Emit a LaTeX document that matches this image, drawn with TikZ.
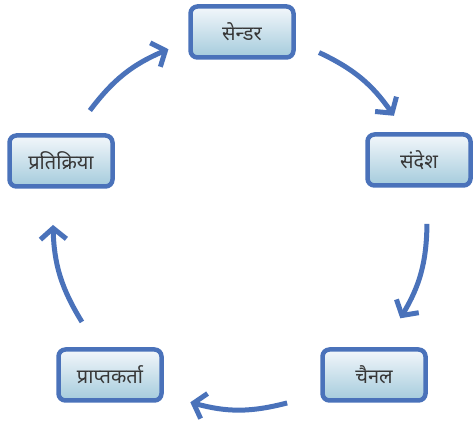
\documentclass[tikz,border=0pt]{standalone}
\usepackage{fontspec}
\newfontfamily\hindi[Script=Devanagari]{Noto Sans}
\usetikzlibrary{arrows.meta}
\definecolor{cycblue}{RGB}{74,114,186}
\definecolor{boxtop}{RGB}{243,247,251}
\definecolor{boxbottom}{RGB}{164,203,220}
\definecolor{labelgray}{RGB}{55,55,55}

\begin{document}
\begin{tikzpicture}[x=1pt,y=1pt,
	BoxStyle/.style = {draw=cycblue, line width=4.5pt, rounded corners=7pt,
		top color=boxtop, bottom color=boxbottom,
		minimum width=103pt, minimum height=51pt,
		text=labelgray, font=\hindi\fontsize{20}{22}\selectfont},
	EdgeStyle/.style = {draw=cycblue, line width=5pt,
		-{Straight Barb[length=11pt,width=26pt]}, bend left=15}]
	\useasboundingbox (0,0) rectangle (473,422);
	\coordinate (hub) at (240,200);
	% the five steps
	\node[BoxStyle] (sender)   at (242,390) {सेन्डर};
	\node[BoxStyle] (sandesh)  at (419,262) {संदेश};
	\node[BoxStyle] (chainal)  at (374,47)  {चैनल};
	\node[BoxStyle] (prapt)    at (110,47)  {प्राप्तकर्ता};
	\node[BoxStyle] (feedback) at (61,261)  {प्रतिक्रिया};
	% arrows round the cycle
	\foreach \a/\b/\n in {65/34.6/1, -0.6/-31/2, -75.4/-105.4/3, 212.3/180.9/4, 143.4/112.5/5}{
		\path (hub) ++(\a:187) coordinate (s\n)
		      (hub) ++(\b:187) coordinate (e\n);
		\draw[EdgeStyle] (s\n) to (e\n);
	}
\end{tikzpicture}
\end{document}
